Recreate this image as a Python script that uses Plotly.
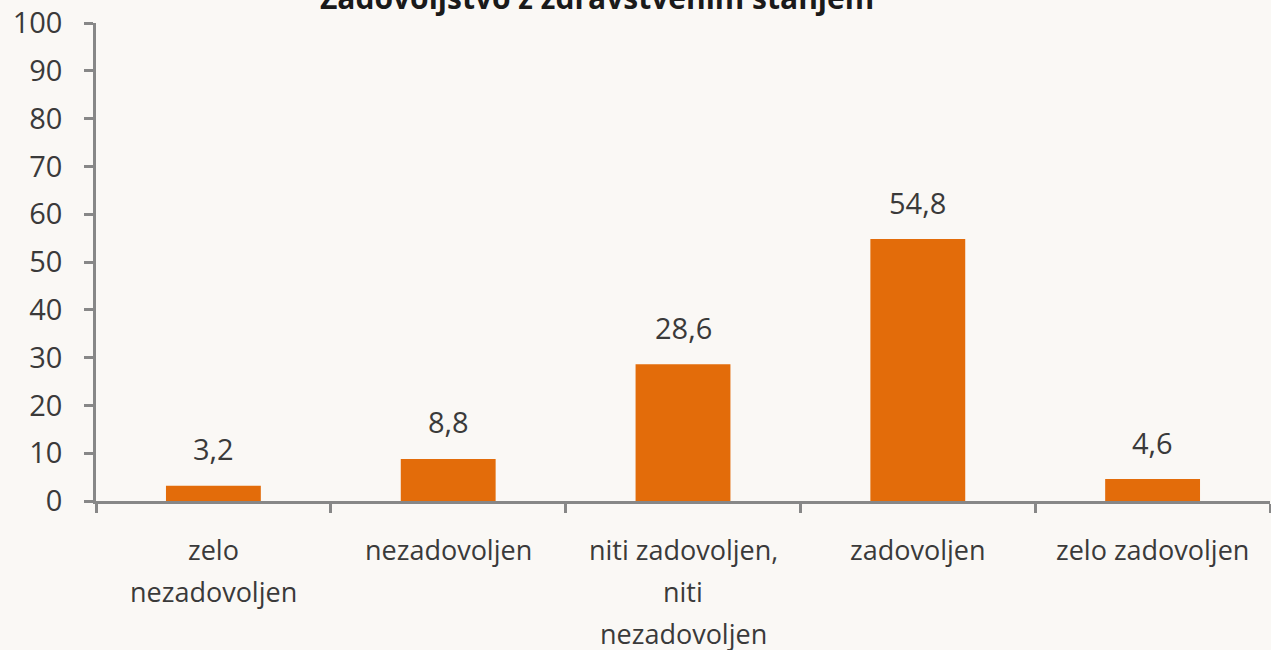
import plotly.graph_objects as go

categories = ["zelo nezadovoljen", "nezadovoljen", "niti zadovoljen, niti nezadovoljen",
              "zadovoljen", "zelo zadovoljen"]
label_lines = [["zelo", "nezadovoljen"], ["nezadovoljen"],
               ["niti zadovoljen,", "niti", "nezadovoljen"], ["zadovoljen"], ["zelo zadovoljen"]]
values = [3.2, 8.8, 28.6, 54.8, 4.6]
labels = ["3,2", "8,8", "28,6", "54,8", "4,6"]
y_ticks = [0, 10, 20, 30, 40, 50, 60, 70, 80, 90, 100]

orange = "#e36c0a"
axis_grey = "#878787"
text_col = "#3a3a3a"
bg = "#faf8f5"
font_name = "Open Sans"

fig = go.Figure()
fig.add_trace(go.Bar(x=categories, y=values, marker_color=orange,
                     marker_line_width=0, hoverinfo="skip"))

# value labels above the bars
for c, v, t in zip(categories, values, labels):
    fig.add_annotation(x=c, y=v, text=t, showarrow=False, yanchor="middle",
                       yshift=37, font=dict(family=font_name, size=29, color=text_col))

# category labels, one annotation per line for the wide line spacing
for c, lines in zip(categories, label_lines):
    for i, line in enumerate(lines):
        fig.add_annotation(x=c, y=0, text=line, showarrow=False, yanchor="middle",
                           yshift=-(48 + 42 * i), font=dict(family=font_name, size=27, color=text_col))

# title, partly cut off at the top of the picture
fig.add_annotation(text="<b>Zadovoljstvo z zdravstvenim stanjem</b>", xref="paper", yref="paper",
                   x=(597 - 96) / 1174, y=1, yanchor="middle", yshift=26, showarrow=False,
                   font=dict(family=font_name, size=30, color="#1a1a1a"))

fig.update_layout(
    width=1271, height=650,
    margin=dict(l=96, r=1, t=23, b=149),
    paper_bgcolor=bg, plot_bgcolor=bg,
    bargap=0.596, showlegend=False,
    font=dict(family=font_name, size=28, color=text_col),
)
fig.update_xaxes(showline=True, linecolor=axis_grey, linewidth=2.5,
                 ticks="outside", tickson="boundaries", ticklen=9, tickwidth=2.5,
                 tickcolor=axis_grey, showgrid=False, showticklabels=False)
fig.update_yaxes(range=[0, 100], tickvals=y_ticks, showline=True, linecolor=axis_grey, linewidth=2.5,
                 ticks="outside", ticklen=9, tickwidth=2.5, tickcolor=axis_grey,
                 showgrid=False, zeroline=False, ticklabelstandoff=16,
                 tickfont=dict(size=29, color=text_col))

fig.write_html("out.html", config={"displayModeBar": False},
               post_script="document.body.style.margin='0px';")
